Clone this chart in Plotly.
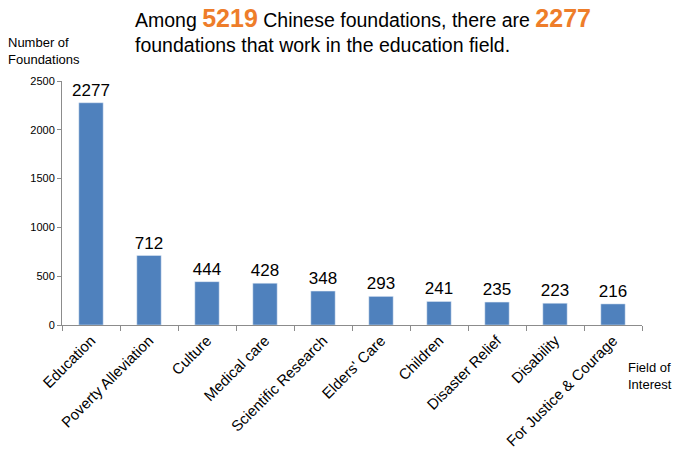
import plotly.graph_objects as go

categories = ["Education", "Poverty Alleviation", "Culture", "Medical care",
              "Scientific Research", "Elders' Care", "Children", "Disaster Relief",
              "Disability", "For Justice & Courage"]
values = [2277, 712, 444, 428, 348, 293, 241, 235, 223, 216]
y_ticks = [0, 500, 1000, 1500, 2000, 2500]

W, H = 680, 453
L, R, T, B = 62, 38, 81, 128
pw, ph = W - L - R, H - T - B

def px_x(x):
    return (x - L) / pw

def px_y(y):
    return (H - B - y) / ph

fig = go.Figure(go.Bar(
    x=categories, y=values, marker_color="#4F81BD", width=0.42,
    text=[str(v) for v in values], textposition="outside", constraintext="none",
    textfont=dict(size=17, color="#000000", family="Liberation Sans, Arial"),
    cliponaxis=False,
))

orange = "#EE7D2A"
title = ("Among <span style='color:%s;font-size:25px'><b>5219</b></span> Chinese foundations, there are "
         "<span style='color:%s;font-size:25px'><b>2277</b></span><br>foundations that work in the education field.") % (orange, orange)

fig.update_layout(
    width=W, height=H, margin=dict(l=L, r=R, t=T, b=B),
    plot_bgcolor="white", paper_bgcolor="white",
    font=dict(family="Liberation Sans, Arial", color="#000000"),
    showlegend=False,
    bargap=0.5,
    xaxis=dict(showline=True, linecolor="#8C8C8C", linewidth=1, automargin=False,
               ticks="outside", tickson="boundaries", ticklen=5, tickcolor="#8C8C8C",
               tickangle=-45, tickfont=dict(size=15), showgrid=False),
    yaxis=dict(range=[0, 2500], tickvals=y_ticks, showline=True, linecolor="#8C8C8C",
               linewidth=1, ticks="outside", ticklen=4, tickcolor="#8C8C8C", automargin=False,
               tickfont=dict(size=11), showgrid=False, zeroline=False),
    annotations=[
        dict(text=title, xref="paper", yref="paper", x=px_x(133), y=px_y(2),
             xanchor="left", yanchor="top", align="left", showarrow=False,
             font=dict(size=19.5)),
        dict(text="Number of<br>Foundations", xref="paper", yref="paper",
             x=px_x(6), y=px_y(33), xanchor="left", yanchor="top", align="left",
             showarrow=False, font=dict(size=13)),
        dict(text="Field of<br>Interest", xref="paper", yref="paper",
             x=px_x(626), y=px_y(358), xanchor="left", yanchor="top", align="left",
             showarrow=False, font=dict(size=13)),
    ],
)

fig.write_html("out.html")
